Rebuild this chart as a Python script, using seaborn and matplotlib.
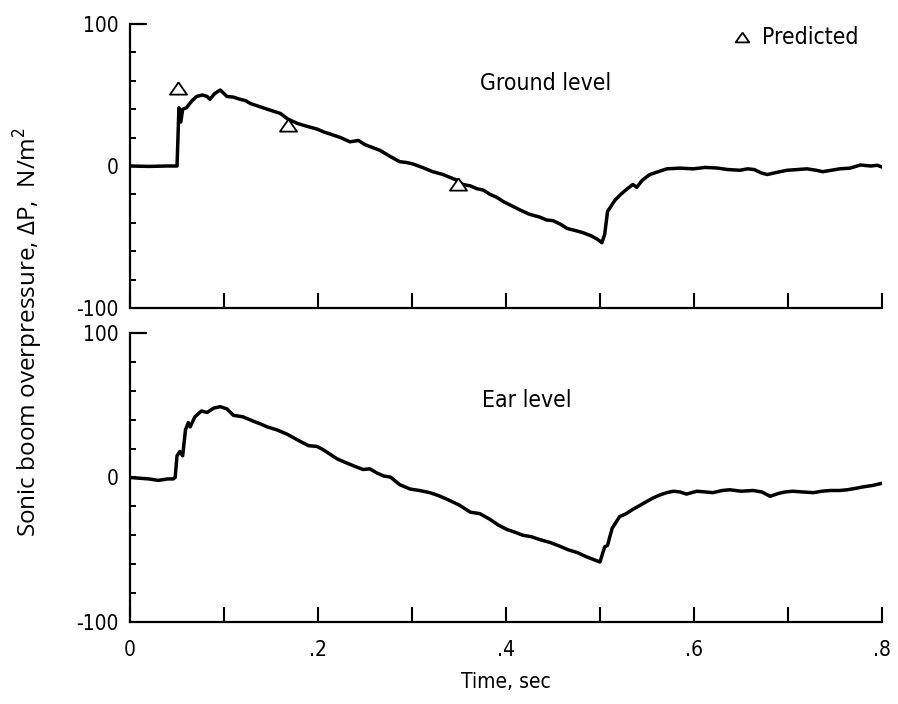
import matplotlib
matplotlib.use("Agg")
import matplotlib.pyplot as plt
import numpy as np
import pandas as pd
import seaborn as sns

# ---------------- data ----------------
ground_t = [0.000, 0.020, 0.040, 0.050, 0.051, 0.052, 0.054, 0.056, 0.060, 0.066,
            0.071, 0.077, 0.082, 0.085, 0.090, 0.096, 0.100, 0.103, 0.110, 0.117,
            0.123, 0.128, 0.137, 0.146, 0.153, 0.160, 0.168, 0.178, 0.188, 0.199,
            0.206, 0.213, 0.224, 0.234, 0.243, 0.250, 0.258, 0.266, 0.276, 0.287,
            0.294, 0.301, 0.311, 0.322, 0.333, 0.344, 0.348, 0.354, 0.362, 0.369,
            0.376, 0.383, 0.390, 0.397, 0.406, 0.415, 0.425, 0.436, 0.443, 0.450,
            0.458, 0.465, 0.474, 0.482, 0.490, 0.497, 0.502, 0.505, 0.508, 0.510,
            0.513, 0.516, 0.522, 0.529, 0.535, 0.539, 0.545, 0.553, 0.562, 0.571,
            0.585, 0.599, 0.612, 0.624, 0.636, 0.649, 0.657, 0.664, 0.672, 0.678,
            0.688, 0.699, 0.710, 0.720, 0.730, 0.737, 0.746, 0.755, 0.766, 0.777,
            0.788, 0.795, 0.800]
ground_dp = [0, -0.3, 0, 0, 20, 41, 31, 40, 41, 46,
             49, 50, 49, 47, 51, 53.5, 51, 49, 48.5, 47,
             46, 44, 42, 40, 38.5, 37, 33, 30, 28, 26,
             24, 22.5, 20, 17, 18, 15, 13, 11, 7, 3,
             2.5, 1.4, -1, -4, -6, -9, -10, -13, -14, -16,
             -17, -20, -22, -25, -28, -31, -34, -36, -38, -38.5,
             -41, -44, -45.5, -47, -49, -51.5, -54, -48, -32, -30,
             -27, -24, -20, -16, -13, -15, -10, -6, -4, -2,
             -1.5, -2, -1, -1.4, -2.5, -3, -2, -2.5, -5, -6,
             -4.5, -3, -2.5, -2, -3, -4, -3, -2, -1.5, 0.7,
             0, 0.5, -0.7]

ear_t = [0.000, 0.010, 0.020, 0.030, 0.040, 0.046, 0.048, 0.050, 0.053, 0.056,
         0.059, 0.062, 0.064, 0.069, 0.076, 0.082, 0.089, 0.096, 0.103, 0.110,
         0.120, 0.131, 0.139, 0.146, 0.156, 0.167, 0.174, 0.181, 0.190, 0.199,
         0.206, 0.213, 0.220, 0.227, 0.238, 0.248, 0.255, 0.263, 0.270, 0.277,
         0.287, 0.298, 0.308, 0.319, 0.328, 0.337, 0.350, 0.362, 0.372, 0.383,
         0.392, 0.401, 0.410, 0.418, 0.427, 0.436, 0.447, 0.457, 0.466, 0.476,
         0.486, 0.494, 0.500, 0.503, 0.505, 0.508, 0.510, 0.513, 0.517, 0.521,
         0.528, 0.535, 0.542, 0.550, 0.557, 0.564, 0.571, 0.578, 0.585, 0.592,
         0.603, 0.612, 0.620, 0.630, 0.638, 0.650, 0.663, 0.672, 0.681, 0.690,
         0.697, 0.705, 0.715, 0.727, 0.736, 0.745, 0.755, 0.763, 0.772, 0.780,
         0.790, 0.800]
ear_dp = [0, -0.5, -1, -2, -1, -1, 0, 15, 18, 15,
          33, 38, 35, 42, 46, 45, 48, 49, 47.5, 43,
          42, 39, 37, 35, 33, 30, 27.5, 25, 22, 21.5,
          19, 16, 13, 11, 8, 5.5, 6, 3, 1, 0.3,
          -5, -8, -9, -10.5, -12.5, -15, -19, -24, -25, -29,
          -33, -36, -38, -40, -41, -43, -45, -47.5, -50, -52,
          -55, -57, -58.5, -52, -48, -47, -42, -35, -31, -27,
          -25, -22, -19.5, -16.5, -14, -12, -10.5, -9.5, -10, -11.5,
          -9.5, -10, -10.5, -9, -8.5, -9.5, -9, -10, -13, -11,
          -10, -9.5, -10, -10.5, -9.5, -9, -9, -8.5, -7.5, -6.5,
          -5.5, -4]

pred_t = [0.051, 0.168, 0.349]
pred_dp = [55, 29, -13]

x_ticks = [0, 0.1, 0.2, 0.3, 0.4, 0.5, 0.6, 0.7, 0.8]
x_tick_labels = ["0", "", ".2", "", ".4", "", ".6", "", ".8"]
y_ticks = [-100, 0, 100]
y_tick_labels = ["-100", "0", "100"]
y_minor_ticks = [-80, -60, -40, -20, 20, 40, 60, 80]

panel_titles = ["Ground level", "Ear level"]

# ---------------- style ----------------
sns.set_theme(style="white", rc={
    "axes.edgecolor": "black", "text.color": "black", "xtick.color": "black",
    "ytick.color": "black", "axes.labelcolor": "black"})
plt.rcParams["font.family"] = ["DejaVu Sans"]
plt.rcParams["font.stretch"] = "condensed"

fig = plt.figure(figsize=(8.98, 7.04), dpi=100)
ax1 = fig.add_axes([0.1448, 0.5625, 0.8374, 0.4034])
ax2 = fig.add_axes([0.1448, 0.1165, 0.8374, 0.4105])

ground_df = pd.DataFrame({"t": ground_t, "dp": ground_dp})
ear_df = pd.DataFrame({"t": ear_t, "dp": ear_dp})
pred_df = pd.DataFrame({"t": pred_t, "dp": pred_dp})

tri = [(0, 0.72), (-1, -0.72), (1, -0.72), (0, 0.72)]

sns.lineplot(data=ground_df, x="t", y="dp", ax=ax1, color="black", lw=2.5,
             estimator=None, sort=False)
sns.lineplot(data=ear_df, x="t", y="dp", ax=ax2, color="black", lw=2.5,
             estimator=None, sort=False)
sns.scatterplot(data=pred_df, x="t", y="dp", ax=ax1, marker=tri, s=150,
                facecolor="white", edgecolor="black", linewidth=1.3,
                label="Predicted", zorder=5)


def style(ax, show_xlabels):
    ax.set_xlim(0, 0.8)
    ax.set_ylim(-100, 100)
    for s in ["top", "right"]:
        ax.spines[s].set_visible(False)
    ax.spines["left"].set_linewidth(1.6)
    ax.spines["bottom"].set_linewidth(1.6)
    ax.set_xticks(x_ticks)
    ax.set_xticklabels(x_tick_labels if show_xlabels else [""] * len(x_ticks))
    ax.set_yticks(y_ticks)
    ax.set_yticklabels(y_tick_labels)
    ax.set_yticks(y_minor_ticks, minor=True)
    ax.tick_params(axis="x", which="major", direction="in", length=10.5, width=1.5,
                   pad=13, labelsize=15, bottom=True)
    ax.tick_params(axis="y", which="both", direction="in", length=4.5, width=1.4,
                   pad=8, labelsize=15, left=True)
    ax.axhline(100, 0, 0.021, color="black", lw=1.6, clip_on=False)
    ax.set_xlabel("")
    ax.set_ylabel("")


style(ax1, False)
style(ax2, True)

ax1.text(0.552, 0.789, panel_titles[0], transform=ax1.transAxes, ha="center",
         va="center", fontsize=16.5)
ax2.text(0.528, 0.768, panel_titles[1], transform=ax2.transAxes, ha="center",
         va="center", fontsize=16.5)

leg = ax1.legend(loc="center left", bbox_to_anchor=(735 / 898, 1 - 37 / 704),
                 bbox_transform=fig.transFigure, frameon=False, fontsize=16.5,
                 handlelength=0.6, handletextpad=0.6, markerscale=0.8,
                 borderpad=0, borderaxespad=0)

fig.text(28 / 898, 1 - 332 / 704, "Sonic boom overpressure, ΔP,  N/m$^2$",
         rotation=90, ha="center", va="center", fontsize=17.5,
         family=["Open Sans", "DejaVu Sans"], stretch="normal")
fig.text(506 / 898, 1 - 682 / 704, "Time, sec", ha="center", va="center",
         fontsize=15)

fig.savefig("out.png", dpi=100)
